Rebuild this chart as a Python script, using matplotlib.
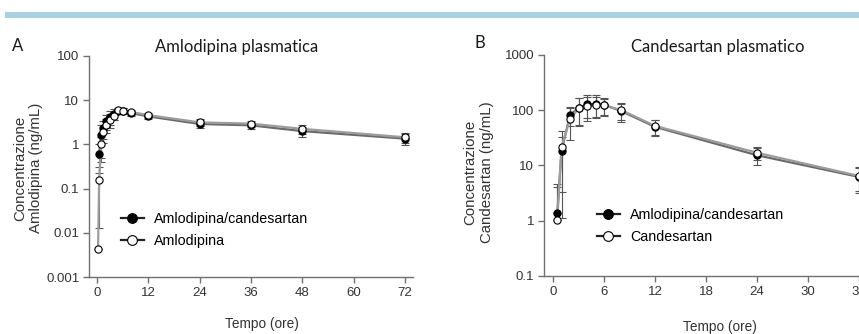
import numpy as np
import matplotlib
matplotlib.use("Agg")
import matplotlib.pyplot as plt
from matplotlib.patches import Rectangle

# data (mean and SD)
t_amlo = [0.25, 0.5, 1, 1.5, 2, 3, 4, 5, 6, 8, 12, 24, 36, 48, 72]
amlo_combo = [np.nan, 0.62, 1.6, 2.3, 3.4, 4.2, 5.0, 5.8, 5.7, 5.1, 4.3, 2.9, 2.7, 2.0, 1.35]
amlo_combo_sd = [0, 0.4, 1.2, 1.0, 1.3, 1.5, 1.4, 1.0, 0.9, 0.7, 0.6, 0.6, 0.5, 0.5, 0.4]
amlo_mono = [0.0044, 0.16, 1.0, 1.9, 2.8, 3.6, 4.5, 5.9, 5.7, 5.4, 4.6, 3.15, 2.95, 2.25, 1.45]
amlo_mono_sd = [0, 0.147, 0.5, 0.8, 1.0, 1.2, 1.0, 0.9, 0.8, 0.7, 0.6, 0.6, 0.5, 0.5, 0.4]

t_cand = [0.5, 1, 2, 3, 4, 5, 6, 8, 12, 24, 36]
cand_combo = [1.36, 18.3, 82, 110, 128, 130, 125, 97, 50, 15.3, 6.2]
cand_combo_sd = [3.2, 15, 31, 55, 57, 55, 45, 35, 16, 5.3, 3]
cand_mono = [1.03, 21.9, 69, 108, 119, 123, 123, 101, 52, 17, 6.45]
cand_mono_sd = [3.0, 20.8, 40, 57, 55, 50, 40, 33, 16, 4.5, 3]

W, H = 859, 334
fig = plt.figure(figsize=(W / 100, H / 100), dpi=100)
plt.rcParams['font.family'] = ['Liberation Sans', 'DejaVu Sans']

def fx(px):
    return px / W

def fy(py):
    return 1 - py / H

# blue band on top
fig.add_artist(Rectangle((fx(5), fy(18.3)), fx(854), 6.6 / H, transform=fig.transFigure,
                         color='#a8d0e3', lw=0))


def draw_series(ax, t, y, sd, filled, label, lcolor):
    y = np.array(y, dtype=float)
    sd = np.array(sd, dtype=float)
    lo = np.where(y - sd > 0, sd, 0)
    ax.errorbar(t, y, yerr=[lo, sd], fmt='none', ecolor='#555555', elinewidth=0.8,
                capsize=3, capthick=0.8, zorder=2)
    ax.plot(t, y, '-', color=lcolor, lw=1.6, zorder=3)
    ax.plot(t, y, 'o', ms=5.2, mec='black', mew=0.8,
            mfc='black' if filled else 'white', zorder=4)
    # proxy for legend
    ax.plot([], [], '-o', color='#222222', lw=1.6, ms=7, mec='black', mew=0.8,
            mfc='black' if filled else 'white', label=label)


def style_axes(ax):
    for s in ['top', 'right']:
        ax.spines[s].set_visible(False)
    for s in ['left', 'bottom']:
        ax.spines[s].set_color('#707070')
        ax.spines[s].set_linewidth(1.0)
    ax.tick_params(which='major', length=4, width=1.0, color='#707070',
                   labelsize=9.5, labelcolor='#333333', pad=3)
    ax.tick_params(which='minor', length=0)


# panel A
axA = fig.add_axes([fx(89), fy(277), fx(413 - 89), 221 / H])
axA.set_yscale('log')
draw_series(axA, t_amlo, amlo_combo, amlo_combo_sd, True, 'Amlodipina/candesartan', '#6a6a6a')
draw_series(axA, t_amlo, amlo_mono, amlo_mono_sd, False, 'Amlodipina', '#9c9c9c')
axA.set_xlim(-1.87, 73.9)
axA.set_ylim(0.001, 100)
axA.set_xticks([0, 12, 24, 36, 48, 60, 72])
axA.set_yticks([0.001, 0.01, 0.1, 1, 10, 100])
axA.set_yticklabels(['0.001', '0.01', '0.1', '1', '10', '100'])
style_axes(axA)
axA.legend(loc='center left', bbox_to_anchor=(fx(121), fy(230)), bbox_transform=fig.transFigure,
           frameon=False, fontsize=10.3, borderpad=0, borderaxespad=0, handlelength=1.6,
           handletextpad=0.7, labelspacing=0.55)

# panel B (runs past the right edge like the reference)
axB = fig.add_axes([fx(544), fy(276), fx(872 - 544), 221 / H])
axB.set_yscale('log')
draw_series(axB, t_cand, cand_combo, cand_combo_sd, True, 'Amlodipina/candesartan', '#6a6a6a')
draw_series(axB, t_cand, cand_mono, cand_mono_sd, False, 'Candesartan', '#9c9c9c')
axB.set_xlim(-1.06, 37.5)
axB.set_ylim(0.1, 1000)
axB.set_xticks([0, 6, 12, 18, 24, 30, 36])
axB.set_yticks([0.1, 1, 10, 100, 1000])
axB.set_yticklabels(['0.1', '1', '10', '100', '1000'])
style_axes(axB)
axB.legend(loc='center left', bbox_to_anchor=(fx(597), fy(226)), bbox_transform=fig.transFigure,
           frameon=False, fontsize=10.3, borderpad=0, borderaxespad=0, handlelength=1.6,
           handletextpad=0.7, labelspacing=0.55)

# titles, letters and axis labels
tfont = ['Lato', 'DejaVu Sans']
fig.text(fx(237), fy(47), 'Amlodipina plasmatica', ha='center', va='center', fontsize=12,
         family=tfont, color='#1a1a1a')
fig.text(fx(718), fy(47), 'Candesartan plasmatico', ha='center', va='center', fontsize=12,
         family=tfont, color='#1a1a1a')
fig.text(fx(17.5), fy(46), 'A', ha='center', va='center', fontsize=12, family=tfont,
         color='#1a1a1a')
fig.text(fx(480), fy(43), 'B', ha='center', va='center', fontsize=12, family=tfont,
         color='#1a1a1a')

fig.text(fx(28), fy(168), 'Concentrazione\nAmlodipina (ng/mL)', rotation=90, ha='center',
         va='center', fontsize=10.8, color='#333333', linespacing=1.2)
fig.text(fx(478.5), fy(172), 'Concentrazione\nCandesartan (ng/mL)', rotation=90, ha='center',
         va='center', fontsize=10.8, color='#333333', linespacing=1.2)
fig.text(fx(262), fy(324), 'Tempo (ore)', ha='center', va='center', fontsize=9.8,
         color='#333333')
fig.text(fx(720), fy(327), 'Tempo (ore)', ha='center', va='center', fontsize=9.8,
         color='#333333')

fig.savefig('out.png', dpi=100)
